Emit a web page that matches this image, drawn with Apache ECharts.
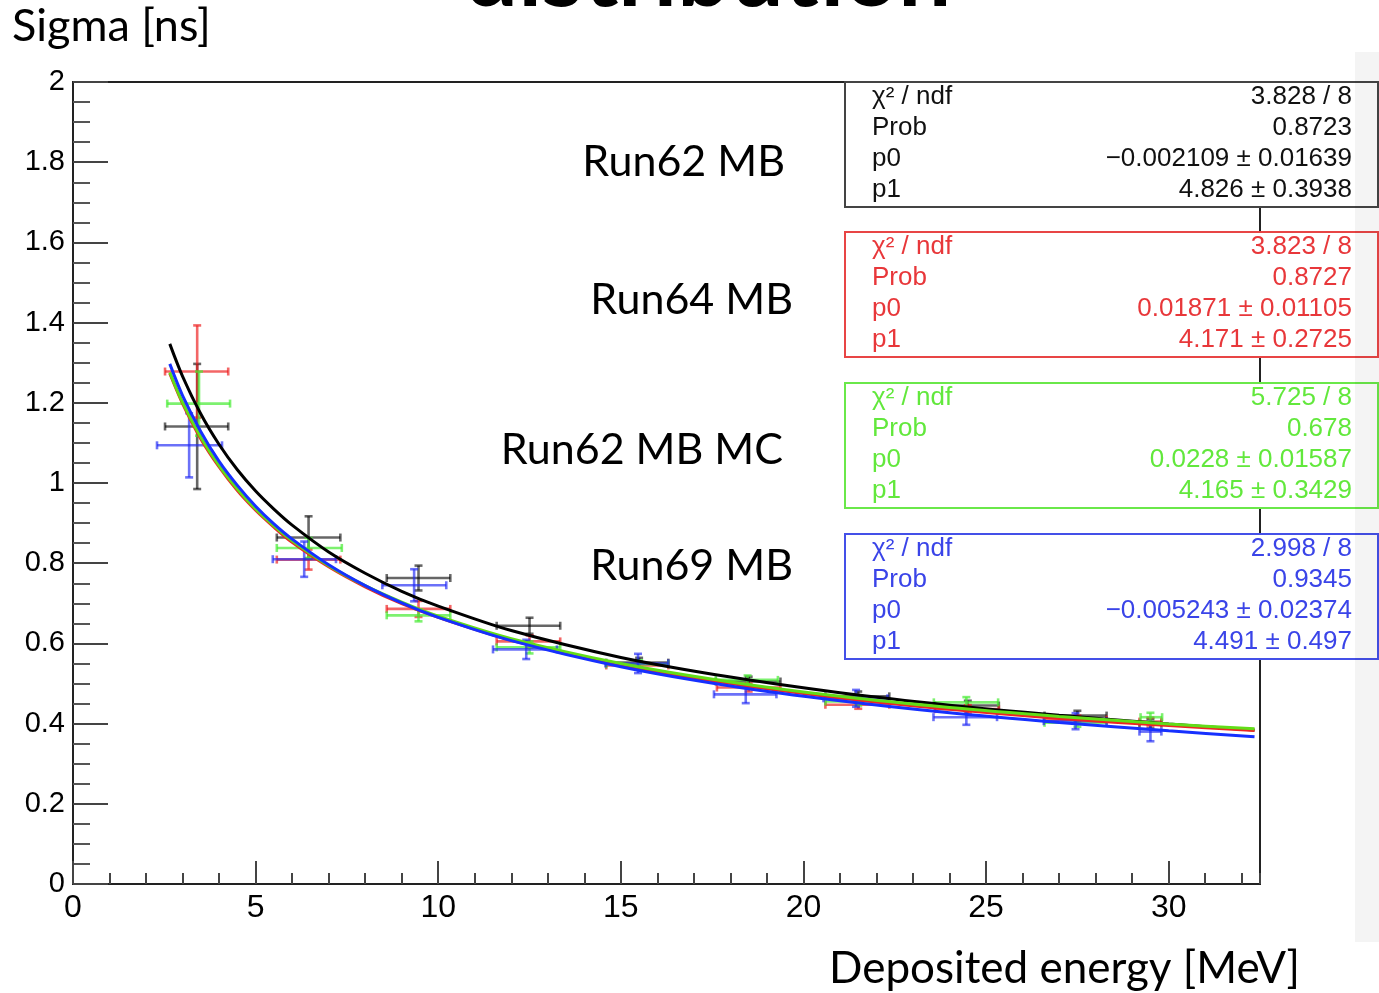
<!DOCTYPE html>
<html>
<head>
<meta charset="utf-8">
<script src="https://cdn.jsdelivr.net/npm/echarts@6/dist/echarts.min.js"></script>
<style>
html,body{margin:0;padding:0;background:#fff;}
#chart{width:1379px;height:993px;}
</style>
</head>
<body>
<div id="chart"></div>
<script>
// ---- Fit curves ----
const fitX = [2.65, 3, 3.5, 4, 4.5, 5, 5.5, 6, 7, 8, 9, 10, 12, 15, 18, 21, 24, 27, 30, 32.35];
const fitRun62   = [1.347, 1.266, 1.172, 1.096, 1.033, 0.980, 0.935, 0.895, 0.828, 0.775, 0.730, 0.693, 0.632, 0.565, 0.516, 0.477, 0.446, 0.421, 0.399, 0.384];
const fitRun64   = [1.273, 1.198, 1.110, 1.040, 0.981, 0.932, 0.890, 0.852, 0.791, 0.741, 0.699, 0.665, 0.608, 0.546, 0.500, 0.464, 0.436, 0.413, 0.395, 0.383];
const fitRun62MC = [1.276, 1.201, 1.114, 1.043, 0.985, 0.935, 0.893, 0.856, 0.794, 0.744, 0.703, 0.668, 0.612, 0.550, 0.504, 0.468, 0.440, 0.418, 0.399, 0.387];
const fitRun69   = [1.297, 1.218, 1.128, 1.054, 0.994, 0.942, 0.898, 0.860, 0.796, 0.744, 0.701, 0.665, 0.607, 0.542, 0.494, 0.457, 0.427, 0.403, 0.382, 0.367];

// ---- Data points: [x, xLow, xHigh, y, yErr] ----
const run62Points = [
  [3.40, 2.52, 4.25, 1.141, 0.156],
  [6.45, 5.58, 7.32, 0.864, 0.053],
  [9.46, 8.59, 10.33, 0.763, 0.031],
  [12.50, 11.60, 13.34, 0.644, 0.020],
  [15.50, 14.60, 16.30, 0.552, 0.012],
  [18.50, 17.60, 19.37, 0.505, 0.012],
  [21.50, 20.60, 22.35, 0.468, 0.012],
  [24.50, 23.60, 25.35, 0.445, 0.012],
  [27.50, 26.60, 28.30, 0.420, 0.012],
  [29.50, 29.20, 29.80, 0.400, 0.012]
];
const run64Points = [
  [3.40, 2.52, 4.25, 1.278, 0.115],
  [6.45, 5.58, 7.32, 0.809, 0.025],
  [9.46, 8.59, 10.33, 0.686, 0.020],
  [12.50, 11.60, 13.34, 0.605, 0.015],
  [15.50, 14.60, 16.30, 0.545, 0.010],
  [18.50, 17.63, 19.37, 0.490, 0.010],
  [21.50, 20.60, 22.35, 0.447, 0.010],
  [24.50, 23.60, 25.35, 0.436, 0.010],
  [27.50, 26.60, 28.30, 0.410, 0.010],
  [29.50, 29.20, 29.80, 0.405, 0.010]
];
const run62MCPoints = [
  [3.45, 2.58, 4.30, 1.198, 0.080],
  [6.45, 5.58, 7.36, 0.838, 0.025],
  [9.46, 8.59, 10.33, 0.670, 0.015],
  [12.50, 11.60, 13.34, 0.590, 0.015],
  [15.50, 14.60, 16.30, 0.548, 0.010],
  [18.47, 17.60, 19.30, 0.509, 0.011],
  [21.50, 20.60, 22.35, 0.455, 0.010],
  [24.46, 23.57, 25.33, 0.453, 0.013],
  [27.50, 26.60, 28.30, 0.402, 0.010],
  [29.50, 29.23, 29.82, 0.416, 0.011]
];
const run69Points = [
  [3.18, 2.30, 4.08, 1.094, 0.080],
  [6.33, 5.47, 7.20, 0.810, 0.044],
  [9.34, 8.47, 10.22, 0.745, 0.040],
  [12.41, 11.50, 13.25, 0.585, 0.024],
  [15.47, 14.58, 16.30, 0.550, 0.024],
  [18.42, 17.55, 19.26, 0.473, 0.022],
  [21.44, 20.55, 22.30, 0.463, 0.021],
  [24.46, 23.56, 25.30, 0.416, 0.019],
  [27.45, 26.58, 28.30, 0.406, 0.020],
  [29.50, 29.20, 29.80, 0.380, 0.024]
];

// ---- Texts ----
const runLabels = ['Run62 MB', 'Run64 MB', 'Run62 MB MC', 'Run69 MB'];
const statLabels = ['\u03C7\u00B2 / ndf', 'Prob', 'p0', 'p1'];
const statsRun62   = ['3.828 / 8', '0.8723', '\u22120.002109 \u00B1 0.01639', '4.826 \u00B1 0.3938'];
const statsRun64   = ['3.823 / 8', '0.8727', '0.01871 \u00B1 0.01105', '4.171 \u00B1 0.2725'];
const statsRun62MC = ['5.725 / 8', '0.678', '0.0228 \u00B1 0.01587', '4.165 \u00B1 0.3429'];
const statsRun69   = ['2.998 / 8', '0.9345', '\u22120.005243 \u00B1 0.02374', '4.491 \u00B1 0.497'];
const xTitle = 'Deposited energy [MeV]';
const yTitle = 'Sigma [ns]';
const mainTitle = 'distribution';

const lineColors = ['#000000', '#ee2424', '#62dd18', '#1630ff'];
const barColors = ['rgba(0,0,0,0.6)', 'rgba(238,30,30,0.68)', 'rgba(70,235,50,0.7)', 'rgba(30,40,245,0.66)'];
const textColors = ['#111111', '#e8373a', '#62e83c', '#3a44e8'];
const boxColors = ['#444444', '#e84545', '#6ae84a', '#4450e8'];

function zipXY(xs, ys) { return xs.map((x, i) => [x, ys[i]]); }

function errRender(color) {
  return function (params, api) {
    const x = api.value(0), xl = api.value(1), xh = api.value(2), y = api.value(3), e = api.value(4);
    const l = api.coord([xl, y]), r = api.coord([xh, y]);
    const t = api.coord([x, y + e]), b = api.coord([x, y - e]);
    const cap = 4;
    const st = { stroke: color, lineWidth: 2.6 };
    const mk = (x1, y1, x2, y2) => ({ type: 'line', shape: { x1, y1, x2, y2 }, style: st });
    return {
      type: 'group',
      children: [
        mk(l[0], l[1], r[0], r[1]),
        mk(t[0], t[1], b[0], b[1]),
        mk(l[0], l[1] - cap, l[0], l[1] + cap),
        mk(r[0], r[1] - cap, r[0], r[1] + cap),
        mk(t[0] - cap, t[1], t[0] + cap, t[1]),
        mk(b[0] - cap, b[1], b[0] + cap, b[1])
      ]
    };
  };
}

const pointSets = [run62Points, run64Points, run62MCPoints, run69Points];
const fitSets = [fitRun62, fitRun64, fitRun62MC, fitRun69];
const statSets = [statsRun62, statsRun64, statsRun62MC, statsRun69];

const series = [];
pointSets.forEach((pts, i) => {
  series.push({
    type: 'custom', renderItem: errRender(barColors[i]), data: pts,
    encode: { x: [0, 1, 2], y: [3] }, z: 3, silent: true
  });
});
fitSets.forEach((ys, i) => {
  series.push({
    type: 'line', data: zipXY(fitX, ys), smooth: 0.3, showSymbol: false, symbol: 'none',
    lineStyle: { color: lineColors[i], width: 3 }, z: 4, silent: true
  });
});

// ---- Graphic elements ----
const graphic = [];
const FONT_LAB = '"Liberation Sans", Arial, sans-serif';
graphic.push({ type: 'text', z: 50, style: { text: mainTitle, x: 708, y: -24, font: 'bold 94px Lato', fill: '#000', align: 'center', verticalAlign: 'middle' } });
graphic.push({ type: 'text', z: 50, style: { text: yTitle, x: 12, y: 26, font: '45px Lato', fill: '#000', align: 'left', verticalAlign: 'middle' } });
graphic.push({ type: 'text', z: 50, style: { text: xTitle, x: 1300, y: 969, font: '44px Lato', fill: '#000', align: 'right', verticalAlign: 'middle' } });
const runLabelX = [785, 793, 783, 793];
const runLabelY = [162, 300, 450, 566];
runLabels.forEach((t, i) => {
  graphic.push({ type: 'text', z: 50, style: { text: t, x: runLabelX[i], y: runLabelY[i], font: '43px Lato', fill: '#000', align: 'right', verticalAlign: 'middle' } });
});
const boxTops = [82, 232, 383, 534];
const rowOffsets = [15, 46, 77, 108];
statSets.forEach((vals, i) => {
  const top = boxTops[i];
  graphic.push({ type: 'rect', z: 60, shape: { x: 845, y: top, width: 533, height: 125 }, style: { fill: '#fff', stroke: boxColors[i], lineWidth: 2 } });
  statLabels.forEach((lab, k) => {
    graphic.push({ type: 'text', z: 61, style: { text: lab, x: 872, y: top + rowOffsets[k], font: '26px ' + FONT_LAB, fill: textColors[i], align: 'left', verticalAlign: 'middle' } });
    graphic.push({ type: 'text', z: 61, style: { text: vals[k], x: 1352, y: top + rowOffsets[k], font: '26px ' + FONT_LAB, fill: textColors[i], align: 'right', verticalAlign: 'middle' } });
  });
});
graphic.push({ type: 'rect', z: 90, silent: true, shape: { x: 1355, y: 52, width: 24, height: 890 }, style: { fill: 'rgba(0,0,0,0.045)' } });

const chart = echarts.init(document.getElementById('chart'), null, { renderer: 'canvas' });
chart.setOption({
  backgroundColor: '#ffffff',
  animation: false,
  grid: { left: 73, right: 119, top: 82, bottom: 109, show: true, borderColor: '#222', borderWidth: 2, backgroundColor: 'transparent' },
  xAxis: [
    {
      type: 'value', min: 0, max: 32.5, interval: 5, position: 'bottom',
      axisLine: { show: true, lineStyle: { color: '#222', width: 2 } },
      axisTick: { show: true, inside: true, length: 23, lineStyle: { color: '#444', width: 2 } },
      axisLabel: { show: true, margin: 8, fontSize: 32, fontFamily: FONT_LAB, color: '#000', showMaxLabel: false },
      splitLine: { show: false }
    },
    {
      type: 'value', min: 0, max: 32.5, interval: 1, position: 'bottom',
      axisLine: { show: false },
      axisTick: { show: true, inside: true, length: 11, lineStyle: { color: '#444', width: 2 } },
      axisLabel: { show: false },
      splitLine: { show: false }
    }
  ],
  yAxis: {
    type: 'value', min: 0, max: 2, interval: 0.2,
    axisLine: { show: true, lineStyle: { color: '#222', width: 2 } },
    axisTick: { show: true, inside: true, length: 35, lineStyle: { color: '#444', width: 2 } },
    minorTick: { show: true, splitNumber: 4, length: 17, lineStyle: { color: '#555', width: 2 } },
    axisLabel: { show: true, margin: 8, fontSize: 29, fontFamily: FONT_LAB, color: '#000' },
    splitLine: { show: false }, minorSplitLine: { show: false }
  },
  series: series,
  graphic: graphic
});
</script>
</body>
</html>
